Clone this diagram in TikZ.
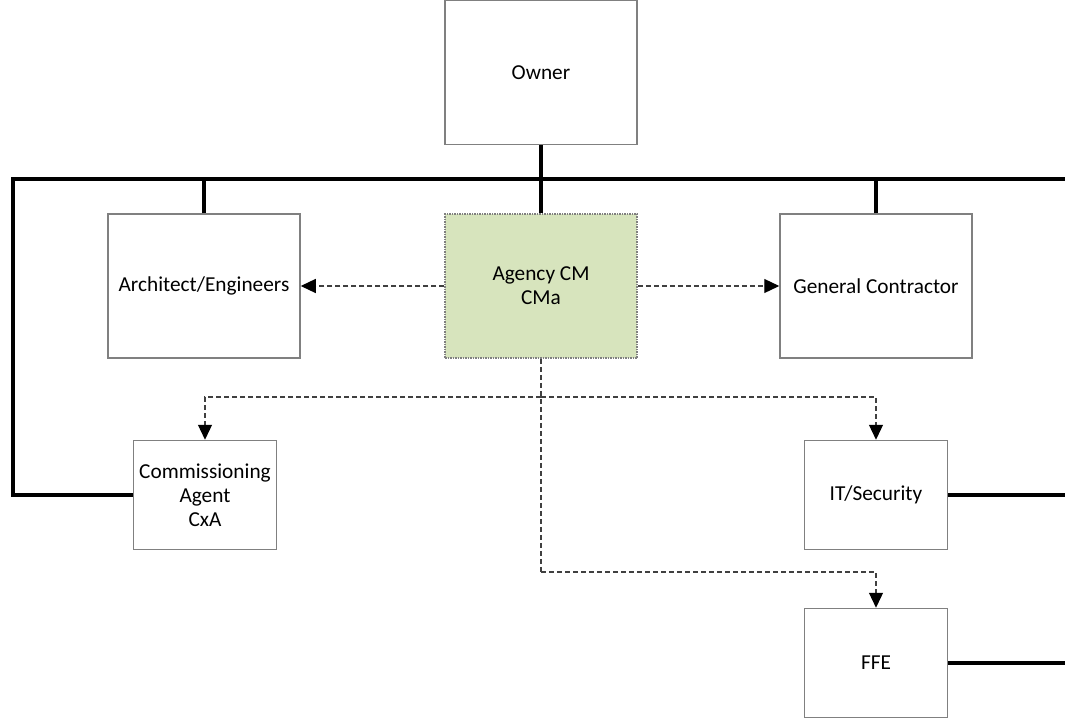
\documentclass[tikz,border=0pt]{standalone}
\usepackage{fontspec}
\setmainfont{Carlito}
\usetikzlibrary{arrows.meta}

\begin{document}
\begin{tikzpicture}[x=1pt,y=-1pt]
    \tikzstyle{box}        = [draw=black!50,line width=1.5pt,fill=white,inner sep=2pt,
                              align=center,font=\fontsize{21.3}{24}\selectfont]
    \tikzstyle{big box}    = [box,minimum width=192pt,minimum height=144pt]
    \tikzstyle{small box}  = [box,minimum width=143pt,minimum height=109pt]
    \tikzstyle{agency box} = [big box,fill={rgb,255:red,215;green,228;blue,189},densely dotted]

    \tikzstyle{bus}        = [-,black,line width=4pt]
    \tikzstyle{advise}     = [draw,line width=1.2pt,black!75,dash pattern=on 5pt off 3pt,
                              -{Triangle[length=15pt,width=14pt,color=black]}]

    \useasboundingbox (0,0) rectangle (1065,720);

    \node[big box]    (owner)  at (541,72.5) {Owner};
    \node[big box]    (arch)   at (204,286)  {Architect/Engineers};
    \node[agency box] (agency) at (541,286)  {Agency CM\\CMa};
    \node[big box]    (gc)     at (876,286)  {General Contractor};
    \node[small box]  (cxa)    at (205,495)  {Commissioning\\Agent\\CxA};
    \node[small box]  (it)     at (876,495)  {IT/Security};
    \node[small box]  (ffe)    at (876,663)  {FFE};

    \coordinate (busL)  at (13,179);
    \coordinate (busR)  at (1065,179);
    \coordinate (split) at (541,397);
    \coordinate (fork)  at (541,572);

    % contract lines
    \draw[bus] (cxa.west) -| (busL) -- (busR);
    \draw[bus] (owner.south) -- (agency.north);
    \draw[bus] (arch.north) -- (arch.north |- busL);
    \draw[bus] (gc.north) -- (gc.north |- busL);
    \draw[bus] (it.east) -- (it.east -| busR);
    \draw[bus] (ffe.east) -- (ffe.east -| busR);

    % communication lines
    \draw[advise] (agency.west) -- (arch.east);
    \draw[advise] (agency.east) -- (gc.west);
    \draw[advise,-] (agency.south) -- (fork);
    \draw[advise] (split) -| (cxa.north);
    \draw[advise] (split) -| (it.north);
    \draw[advise] (fork) -| (ffe.north);
\end{tikzpicture}
\end{document}
